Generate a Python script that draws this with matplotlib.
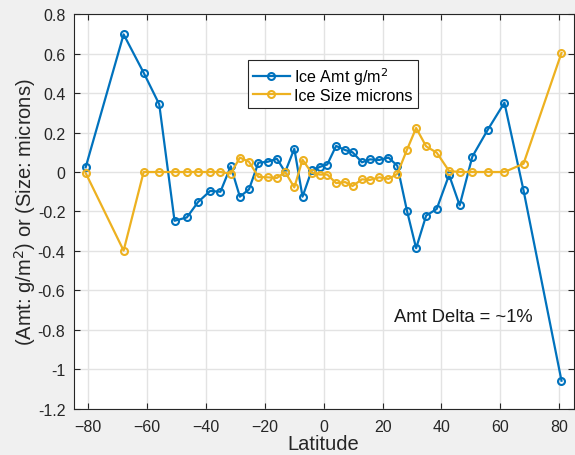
import matplotlib
matplotlib.use("Agg")
import matplotlib.pyplot as plt

plt.rcParams['font.family'] = ['Liberation Sans', 'DejaVu Sans']

# latitudes (shared by both series)
lat = [-80.9, -68.0, -61.2, -55.9, -50.7, -46.5, -42.7, -38.6, -35.1, -31.6,
       -28.5, -25.4, -22.2, -19.0, -15.9, -13.1, -10.0, -7.2, -4.1, -1.3,
       1.2, 4.2, 7.3, 9.8, 13.0, 15.7, 18.9, 22.0, 25.0, 28.3,
       31.4, 34.8, 38.4, 42.6, 46.2, 50.5, 55.7, 61.4, 67.9, 80.8]

ice_amt = [0.024, 0.697, 0.503, 0.343, -0.247, -0.23, -0.152, -0.096, -0.1, 0.029,
           -0.125, -0.088, 0.047, 0.052, 0.067, 0.0, 0.118, -0.125, 0.008, 0.026,
           0.038, 0.132, 0.111, 0.1, 0.049, 0.064, 0.061, 0.073, 0.032, -0.197,
           -0.386, -0.221, -0.187, -0.015, -0.169, 0.078, 0.213, 0.351, -0.093, -1.057]

ice_size = [-0.005, -0.398, 0.0, 0.0, 0.0, 0.0, 0.0, 0.0, 0.0, -0.008,
            0.073, 0.052, -0.025, -0.027, -0.03, 0.0, -0.078, 0.062, -0.004, -0.013,
            -0.013, -0.056, -0.051, -0.071, -0.037, -0.04, -0.027, -0.035, -0.01, 0.113,
            0.223, 0.13, 0.098, 0.005, 0.0, 0.0, 0.0, 0.0, 0.042, 0.603]

fig = plt.figure(figsize=(5.75, 4.56), dpi=100, facecolor='#f0f0f0')
ax = fig.add_axes([0.128, 0.101, 0.870, 0.866])
ax.set_facecolor('white')

ax.plot(lat, ice_amt, '-o', color='#0072BD', lw=1.6, ms=5, mfc='none', mew=1.5,
        label='Ice Amt g/m$^2$')
ax.plot(lat, ice_size, '-o', color='#EDB120', lw=1.6, ms=5, mfc='none', mew=1.5,
        label='Ice Size microns')

ax.set_xlim(-85, 85)
ax.set_ylim(-1.2, 0.8)
ax.set_xticks([-80, -60, -40, -20, 0, 20, 40, 60, 80])
ax.set_yticks([-1.2, -1, -0.8, -0.6, -0.4, -0.2, 0, 0.2, 0.4, 0.6, 0.8])
ax.set_yticklabels(['-1.2', '-1', '-0.8', '-0.6', '-0.4', '-0.2', '0', '0.2', '0.4', '0.6', '0.8'])
ax.grid(True, color='#e3e3e3', lw=1)
ax.set_axisbelow(True)
ax.tick_params(direction='in', top=True, right=True, labelsize=11.5, colors='#262626', length=4)
ax.tick_params(axis='x', pad=7)
ax.tick_params(axis='y', pad=6)
for s in ax.spines.values():
    s.set_color('#262626')

ax.set_xlabel('Latitude', fontsize=14.5, color='#262626', labelpad=0)
ax.set_ylabel('(Amt: g/m$^2$) or (Size: microns)', fontsize=14.5, color='#262626', labelpad=0)

leg = ax.legend(loc='upper left', bbox_to_anchor=(0.348, 0.884), fontsize=11.6,
                fancybox=False, framealpha=1, edgecolor='#262626',
                borderpad=0.32, borderaxespad=0, handlelength=2.3, handletextpad=0.25,
                labelspacing=0.05)
leg.get_frame().set_linewidth(0.8)

ax.text(24.0, -0.734, 'Amt Delta = ~1%', fontsize=13.2, va='center', ha='left', color='#1a1a1a')

fig.savefig('out.png', dpi=100, facecolor=fig.get_facecolor())
